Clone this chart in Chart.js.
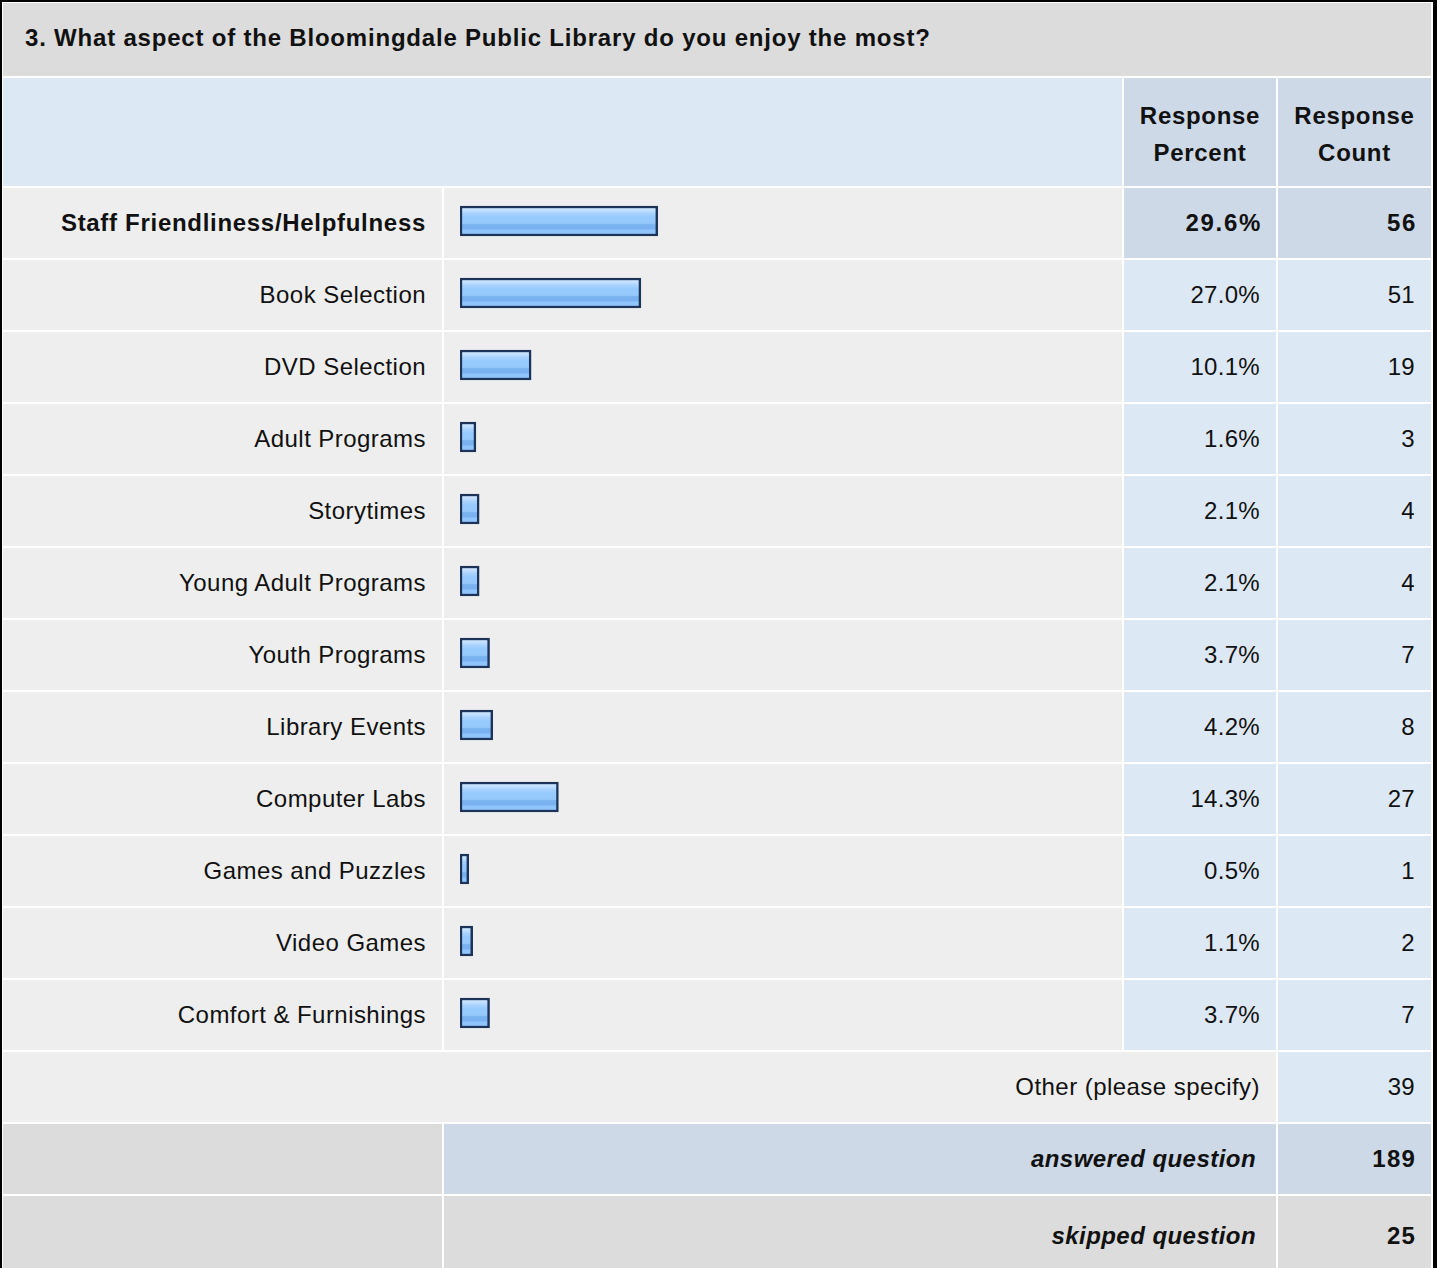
<!DOCTYPE html>
<html>
<head>
<meta charset="utf-8">
<title>Q3 - Bloomingdale Public Library</title>
<script src="https://cdn.jsdelivr.net/npm/chart.js@4"></script>
<style>
  html, body { margin: 0; padding: 0; background: #fff; overflow: hidden; }
  body { width: 1437px; height: 1268px; position: relative;
         font-family: "Liberation Sans", Arial, Helvetica, sans-serif; color: #111; }
  #survey {
    position: absolute; left: 0; top: 0;
    border-left: 2px solid #000; border-top: 2px solid #000; border-right: 4px solid #000;
    padding: 1px 2px 0 1px;
    background: #fff;
    display: grid;
    grid-template-columns: 439px 678px 152px 153px;
    grid-template-rows: 73px 108px repeat(14, 70px) 80px;
    gap: 2px;
  }
  #survey > div { display: flex; align-items: center; justify-content: flex-end;
                  padding-right: 16px; font-size: 24px; letter-spacing: 0.45px;
                  box-sizing: border-box; }
  .title { background: #dcdcdc; font-weight: bold; justify-content: flex-start !important;
           padding: 0 0 4px 22px; grid-column: 1 / 5; letter-spacing: 0.8px !important; }
  .head-blank { background: #dde8f5; grid-column: 1 / 3; }
  .head { background: #cdd9e7; font-weight: bold; justify-content: center !important;
          text-align: center; line-height: 37px; padding: 4px 0 0 0 !important;
          letter-spacing: 0.7px !important; }
  .label { background: #eeeeee; padding-right: 16px !important; }
  .bar { background: #eeeeee; }
  .num { background: #dde8f5; letter-spacing: 0.3px !important; }
  .num.top { background: #cdd9e7; font-weight: bold; letter-spacing: 1.7px !important;
             padding-right: 14px !important; }
  .strong { font-weight: bold; letter-spacing: 0.7px !important; }
  .grey { background: #dcdcdc; }
  .sum { background: #cdd9e7; }
  .ital { font-style: italic; font-weight: bold; padding-right: 20px !important; }
  .cnt { letter-spacing: 1.2px !important; padding-right: 15px !important; }
  #bars { position: absolute; left: 444px; top: 185px; }
</style>
</head>
<body>
<div id="survey"></div>
<canvas id="bars" width="678" height="864"></canvas>
<script>
const question = '3. What aspect of the Bloomingdale Public Library do you enjoy the most?';
const choices = [
  'Staff Friendliness/Helpfulness', 'Book Selection', 'DVD Selection', 'Adult Programs',
  'Storytimes', 'Young Adult Programs', 'Youth Programs', 'Library Events',
  'Computer Labs', 'Games and Puzzles', 'Video Games', 'Comfort & Furnishings'
];
const percents = [29.6, 27.0, 10.1, 1.6, 2.1, 2.1, 3.7, 4.2, 14.3, 0.5, 1.1, 3.7];
const counts = [56, 51, 19, 3, 4, 4, 7, 8, 27, 1, 2, 7];
const otherLabel = 'Other (please specify)';
const otherCount = 39;
const answeredCount = 189;
const skippedCount = 25;

// petit décalage pour que les barres minuscules restent visibles (comme l'original)
const BAR_BASE = -0.85;

const survey = document.getElementById('survey');
function cell(cls, text, style) {
  const d = document.createElement('div');
  d.className = cls;
  d.innerHTML = text;
  if (style) d.style.cssText = style;
  survey.appendChild(d);
  return d;
}

cell('title', question);
cell('head-blank', '');
cell('head', 'Response<br>Percent');
cell('head', 'Response<br>Count');

const maxCount = Math.max(...counts);
choices.forEach((c, i) => {
  const top = counts[i] === maxCount;
  cell('label' + (top ? ' strong' : ''), c.replace('&', '&amp;'));
  cell('bar', '');
  cell('num' + (top ? ' top' : ''), percents[i].toFixed(1) + '%');
  cell('num' + (top ? ' top' : ''), String(counts[i]));
});

cell('label', otherLabel, 'grid-column: 1 / 4;');
cell('num', String(otherCount));
cell('grey', '');
cell('sum ital', 'answered question', 'grid-column: 2 / 4;');
cell('sum strong cnt', String(answeredCount));
cell('grey', '');
cell('grey ital', 'skipped question', 'grid-column: 2 / 4;');
cell('grey strong cnt', String(skippedCount));

// dégradé "verre" des barres, calculé par barre
function barGradient(context) {
  const chart = context.chart;
  const y = chart.scales && chart.scales.y;
  if (context.type !== 'data' || !y) return '#94c8fc';
  const c = y.getPixelForValue(context.dataIndex);
  if (!Number.isFinite(c)) return '#94c8fc';
  const g = chart.ctx.createLinearGradient(0, c - 15, 0, c + 15);
  g.addColorStop(0.0, '#d4eaff');
  g.addColorStop(0.12, '#c6e2ff');
  g.addColorStop(0.25, '#a9d3fe');
  g.addColorStop(0.35, '#98cafd');
  g.addColorStop(0.58, '#95c8fc');
  g.addColorStop(0.62, '#7bb2f1');
  g.addColorStop(0.76, '#79b0f0');
  g.addColorStop(0.8, '#8ec4fd');
  g.addColorStop(1.0, '#93c7fd');
  return g;
}

new Chart(document.getElementById('bars').getContext('2d'), {
  type: 'bar',
  data: {
    labels: choices,
    datasets: [{
      data: percents,
      base: BAR_BASE,
      barThickness: 30,
      borderWidth: 2.5,
      borderColor: '#1c3459',
      borderSkipped: false,
      backgroundColor: barGradient
    }]
  },
  options: {
    indexAxis: 'y',
    responsive: false,
    devicePixelRatio: 1,
    animation: false,
    events: [],
    layout: { padding: { left: 16, right: 7, top: 0, bottom: 0 } },
    plugins: { legend: { display: false }, tooltip: { enabled: false } },
    scales: {
      x: { display: false, min: BAR_BASE, max: 100 },
      y: { display: false }
    }
  }
});
</script>
</body>
</html>
